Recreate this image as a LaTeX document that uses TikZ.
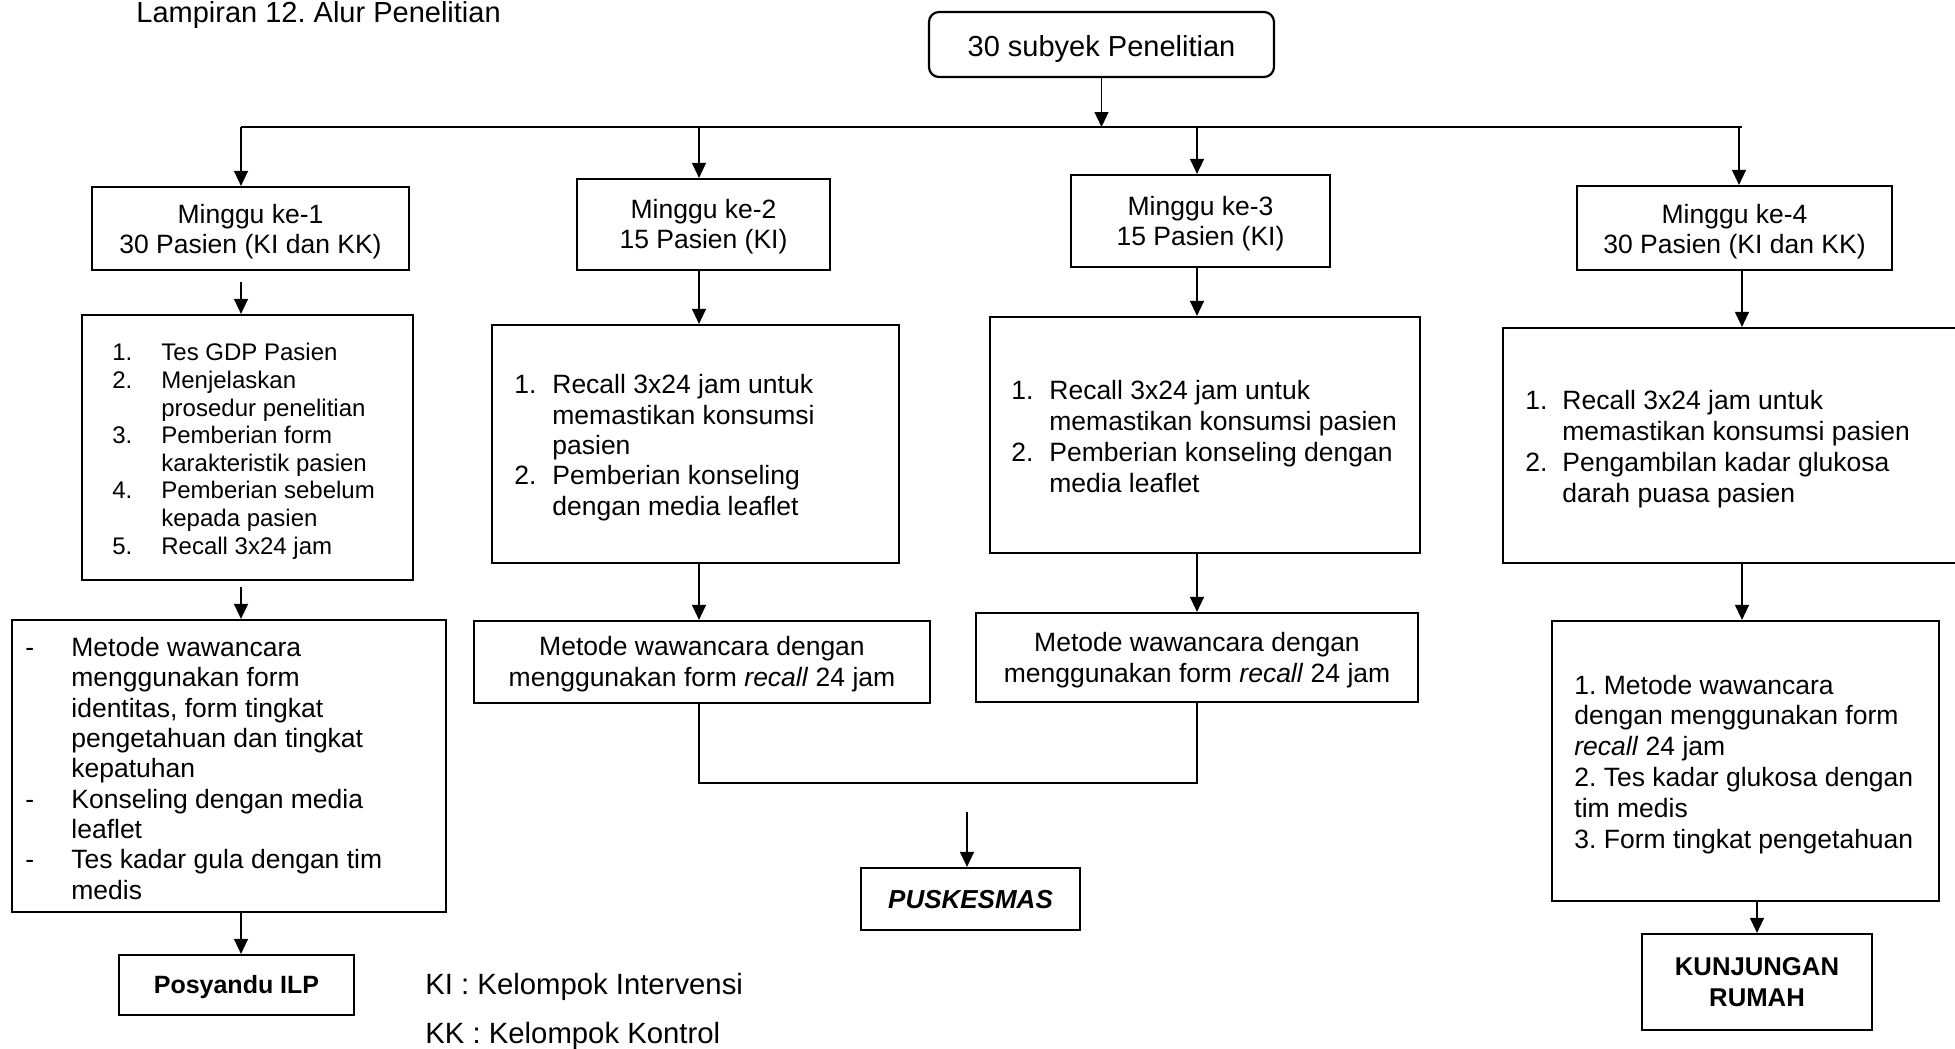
\documentclass[tikz,border=0pt]{standalone}
\usepackage{fontspec}
\setmainfont{Liberation Sans}
\usetikzlibrary{arrows.meta}
\frenchspacing
\newcommand\fsz[2]{\fontsize{#1}{#2}\selectfont}
\newcommand\nm[2]{\makebox[#1][l]{#2}}
\tikzset{
  bx/.style={draw, line width=1.1pt, inner sep=0pt, align=center, anchor=center},
  sz/.style 2 args={minimum width=#1, minimum height=#2},
  ctxt/.style={inner sep=0pt, align=center, anchor=center},
  arr/.style={line width=0.65pt, -{Triangle[length=7.5pt,width=7pt]}},
  con/.style={line width=0.65pt},
  txt/.style={inner sep=0pt, align=left, anchor=base west},
  reg/.style={font=\fsz{13.25pt}{15pt}},
}
\begin{document}
\begin{tikzpicture}[x=0.5pt,y=-0.5pt]
\useasboundingbox (0,0) rectangle (1955,1049);

% title
\node[txt, font=\fsz{14.5pt}{17pt}] (title) at (136,23) {Lampiran 12. Alur Penelitian};

% top
\node[bx, rounded corners=5pt, sz={172.5pt}{32.5pt}] (top) at (1101.5,44.5) {};
\node[ctxt, font=\fsz{14.5pt}{17pt}, yshift=-2.5pt] (topt) at (top.center) {30 subyek Penelitian};

% week boxes
\node[bx, sz={158.5pt}{41.5pt}] (b1) at (250.5,228.5) {};
\node[ctxt, reg, yshift=-1.75pt] (b1t) at (b1.center) {Minggu ke-1\\30 Pasien (KI dan KK)};
\node[bx, sz={126.5pt}{45.5pt}] (b2) at (703.5,224.5) {};
\node[ctxt, reg, yshift=-1.25pt] (b2t) at (b2.center) {Minggu ke-2\\15 Pasien (KI)};
\node[bx, sz={129.5pt}{46pt}] (b3) at (1200.5,221) {};
\node[ctxt, reg, yshift=-1.5pt] (b3t) at (b3.center) {Minggu ke-3\\15 Pasien (KI)};
\node[bx, sz={157.5pt}{42pt}] (b4) at (1734.5,228) {};
\node[ctxt, reg, yshift=-1.85pt] (b4t) at (b4.center) {Minggu ke-4\\30 Pasien (KI dan KK)};

% column 1
\node[bx, sz={165.5pt}{132.5pt}] (l1) at (247.5,447.5) {};
\node[txt, font=\fsz{12pt}{13.8pt}] (l1t) at (112,554) {%
\nm{24.5pt}{1.}Tes GDP Pasien\\
\nm{24.5pt}{2.}Menjelaskan\\
\hspace*{24.5pt}prosedur penelitian\\
\nm{24.5pt}{3.}Pemberian form\\
\hspace*{24.5pt}karakteristik pasien\\
\nm{24.5pt}{4.}Pemberian sebelum\\
\hspace*{24.5pt}kepada pasien\\
\nm{24.5pt}{5.}Recall 3x24 jam};

\node[bx, sz={217pt}{146pt}] (l1c) at (229,766) {};
\node[txt, font=\fsz{13.25pt}{15.15pt}] (l1ct) at (25,899) {%
\nm{23pt}{-}Metode wawancara\\
\hspace*{23pt}menggunakan form\\
\hspace*{23pt}identitas, form tingkat\\
\hspace*{23pt}pengetahuan dan tingkat\\
\hspace*{23pt}kepatuhan\\
\nm{23pt}{-}Konseling dengan media\\
\hspace*{23pt}leaflet\\
\nm{23pt}{-}Tes kadar gula dengan tim\\
\hspace*{23pt}medis};

\node[bx, sz={117.5pt}{30pt}] (pos) at (236.5,985) {};
\node[ctxt, font=\bfseries\fsz{12.5pt}{15pt}, yshift=-1.25pt] (post) at (pos.center) {Posyandu ILP};

% column 2
\node[bx, sz={203.5pt}{119pt}] (l2) at (695.5,444) {};
\node[txt, font=\fsz{13.25pt}{15.15pt}] (l2t) at (514,515) {%
\nm{19pt}{1.}Recall 3x24 jam untuk\\
\hspace*{19pt}memastikan konsumsi\\
\hspace*{19pt}pasien\\
\nm{19pt}{2.}Pemberian konseling\\
\hspace*{19pt}dengan media leaflet};

\node[bx, sz={228pt}{41pt}] (l2b) at (702,662) {};
\node[ctxt, font=\fsz{13.25pt}{15.5pt}, yshift=-1.25pt] (l2bt) at (l2b.center) {Metode wawancara dengan\\menggunakan form \textit{recall} 24 jam};

% column 3
\node[bx, sz={215pt}{118pt}] (l3) at (1205,435) {};
\node[txt, font=\fsz{13.25pt}{15.5pt}] (l3t) at (1011,492) {%
\nm{19pt}{1.}Recall 3x24 jam untuk\\
\hspace*{19pt}memastikan konsumsi pasien\\
\nm{19pt}{2.}Pemberian konseling dengan\\
\hspace*{19pt}media leaflet};

\node[bx, sz={221pt}{44.5pt}] (l3b) at (1197,657.5) {};
\node[ctxt, font=\fsz{13.25pt}{15.5pt}, yshift=-1.25pt] (l3bt) at (l3b.center) {Metode wawancara dengan\\menggunakan form \textit{recall} 24 jam};

\node[bx, sz={109.5pt}{31pt}] (pusk) at (970.5,899) {};
\node[ctxt, font=\bfseries\itshape\fsz{13pt}{15pt}, yshift=-0.5pt] (puskt) at (pusk.center) {PUSKESMAS};

% column 4
\node[bx, sz={236pt}{117.5pt}] (l4) at (1739,445.5) {};
\node[txt, font=\fsz{13.25pt}{15.5pt}] (l4t) at (1525,502) {%
\nm{18.5pt}{1.}Recall 3x24 jam untuk\\
\hspace*{18.5pt}memastikan konsumsi pasien\\
\nm{18.5pt}{2.}Pengambilan kadar glukosa\\
\hspace*{18.5pt}darah puasa pasien};

\node[bx, sz={193.5pt}{140pt}] (l4b) at (1745.5,761) {};
\node[txt, font=\fsz{13.25pt}{15.4pt}] (l4bt) at (1574,848) {%
1. Metode wawancara\\
dengan menggunakan form\\
\textit{recall} 24 jam\\
2. Tes kadar glukosa dengan\\
tim medis\\
3. Form tingkat pengetahuan};

\node[bx, sz={115pt}{48pt}, font=\bfseries\fsz{12.85pt}{15.25pt}] (kunj) at (1757,982) {KUNJUNGAN\\RUMAH};

% legend
\node[txt, font=\fsz{14.65pt}{17pt}] (ki) at (425,994) {KI : Kelompok Intervensi};
\node[txt, font=\fsz{14.65pt}{17pt}] (kk) at (425,1043) {KK : Kelompok Kontrol};

% connectors
\coordinate (c1) at (241,0);
\coordinate (c2) at (699,0);
\coordinate (c3) at (1197,0);
\coordinate (c4) at (1739,0);
\coordinate (c4b) at (1742,0);
\coordinate (busL) at (241,127);
\coordinate (busR) at (1742,127);
\coordinate (mg) at (0,783);
\coordinate (pk) at (967,812);

\draw[con] (busL) -- (busR);
\draw[arr] (top.south) -- (top.south |- busL);
\draw[arr] (c1 |- busL) -- (c1 |- b1.north);
\draw[arr] (c2 |- busL) -- (c2 |- b2.north);
\draw[arr] (c3 |- busL) -- (c3 |- b3.north);
\draw[arr] (c4 |- busL) -- (c4 |- b4.north);

\draw[arr, shorten <=5.5pt] (c1 |- b1.south) -- (c1 |- l1.north);
\draw[arr, shorten <=3pt] (c1 |- l1.south) -- (c1 |- l1c.north);
\draw[arr] (c1 |- l1c.south) -- (c1 |- pos.north);

\draw[arr] (c2 |- b2.south) -- (c2 |- l2.north);
\draw[arr] (c2 |- l2.south) -- (c2 |- l2b.north);

\draw[arr] (c3 |- b3.south) -- (c3 |- l3.north);
\draw[arr] (c3 |- l3.south) -- (c3 |- l3b.north);

\draw[con] (c2 |- l2b.south) -- (c2 |- mg) -- (c3 |- mg) -- (c3 |- l3b.south);
\draw[arr] (pk) -- (pk |- pusk.north);

\draw[arr] (c4b |- b4.south) -- (c4b |- l4.north);
\draw[arr] (c4b |- l4.south) -- (c4b |- l4b.north);
\draw[arr] (kunj.north |- l4b.south) -- (kunj.north);
\end{tikzpicture}
\end{document}
